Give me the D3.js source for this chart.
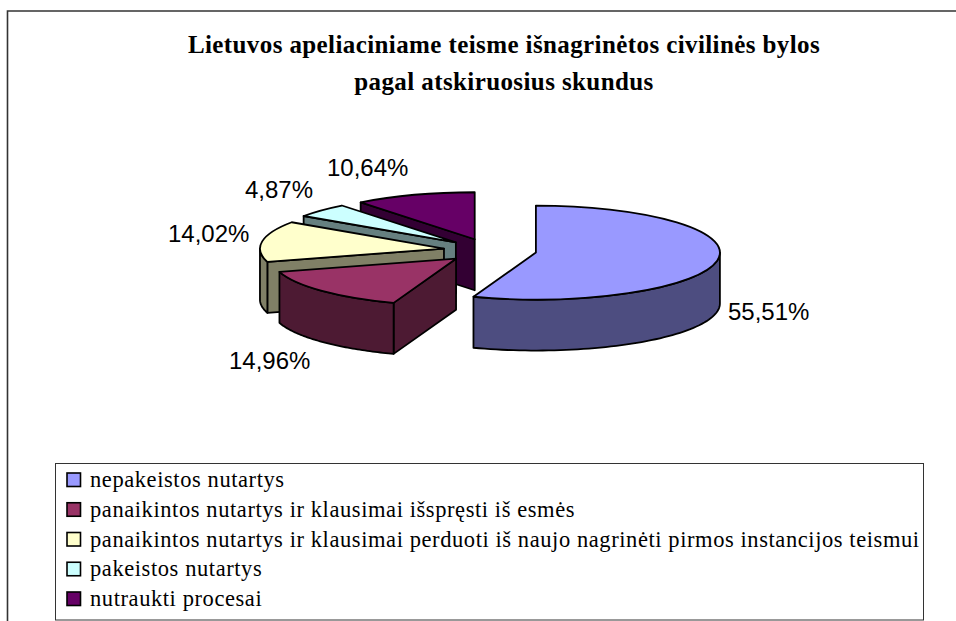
<!DOCTYPE html>
<html><head><meta charset="utf-8">
<script src="https://cdn.jsdelivr.net/npm/d3@7"></script>
<style>html,body{margin:0;background:#fff}svg{display:block}</style>
</head><body><svg id="c" width="956" height="621"></svg>
<script>
const categories = ["nepakeistos nutartys","panaikintos nutartys ir klausimai išspręsti iš esmės","panaikintos nutartys ir klausimai perduoti iš naujo nagrinėti pirmos instancijos teismui","pakeistos nutartys","nutraukti procesai"];
const values = [55.51,14.96,14.02,4.87,10.64];
const valueLabels = ["55,51%","14,96%","14,02%","4,87%","10,64%"];
const colors = ["#9999ff","#993366","#ffffcc","#ccffff","#660066"];
const titleLines = ["Lietuvos apeliaciniame teisme išnagrinėtos civilinės bylos","pagal atskiruosius skundus"];

const svg = d3.select("#c");
const W=956,H=621;
// frame
svg.append("path").attr("d",`M7.5 621V11H${W}`).attr("fill","none").attr("stroke","#333").attr("stroke-width",1.6);

// title
svg.selectAll("text.title").data(titleLines).join("text").attr("class","title")
 .attr("x",504).attr("y",(d,i)=>53+i*37).attr("text-anchor","middle")
 .attr("font-family","'Liberation Serif',serif").attr("font-weight","bold").attr("font-size",25)
 .attr("letter-spacing",0.4).text(d=>d);

// pie
const cx=490,cy=250.5,rx=184,ry=47,depth=51,explode=46.6,k=ry/rx;
const slices=d3.pie().sort(null).value(d=>d)(values);
const centre=s=>{const m=(s.startAngle+s.endAngle)/2;return [cx+explode*Math.sin(m),cy-explode*k*Math.cos(m)];};
const pt=(c,a,dy=0)=>[c[0]+rx*Math.sin(a),c[1]-ry*Math.cos(a)+dy];
const line=d3.line();
const arcTop=d3.arc().innerRadius(0).outerRadius(rx);
const shade=c=>{const q=d3.rgb(c);return d3.rgb(q.r/2,q.g/2,q.b/2).formatHex();};
const order=d3.range(values.length).reverse();
const g=svg.append("g").attr("stroke","#000").attr("stroke-width",1.8).attr("stroke-linejoin","round");
order.forEach(i=>{
  const s=slices[i],c=centre(s),dark=shade(colors[i]);
  // radial wall on the start side (faces the viewer on every slice except the first)
  if(i>0){
    const a=pt(c,s.startAngle);
    g.append("path").attr("d",line([c,a,[a[0],a[1]+depth],[c[0],c[1]+depth]])+"Z").attr("fill",dark);
  }
  // outer curved wall: the part of the rim between 90° and 270°
  const a0=Math.max(s.startAngle,Math.PI/2),a1=Math.min(s.endAngle,Math.PI*1.5);
  if(a1>a0){
    const ang=d3.range(0,61).map(j=>a0+(a1-a0)*j/60);
    const pts=ang.map(a=>pt(c,a)).concat(ang.slice().reverse().map(a=>pt(c,a,depth)));
    g.append("path").attr("d",line(pts)+"Z").attr("fill",dark);
  }
  // top face
  g.append("path").attr("transform",`translate(${c[0]},${c[1]}) scale(1,${k})`)
   .attr("d",arcTop(s)).attr("fill",colors[i]).attr("vector-effect","non-scaling-stroke");
});

// value labels
const labelAnchors=[[728,320],[229,369],[168,242],[245,198],[327,176]];
svg.selectAll("text.v").data(valueLabels).join("text").attr("class","v")
 .attr("x",(d,i)=>labelAnchors[i][0]).attr("y",(d,i)=>labelAnchors[i][1])
 .attr("font-family","'Liberation Sans',sans-serif").attr("font-size",24).attr("fill","#000").text(d=>d);

// legend
svg.append("rect").attr("x",55.5).attr("y",463.5).attr("width",868).attr("height",156.5)
 .attr("fill","#fff").attr("stroke","#333").attr("stroke-width",1);
const yL=d3.scalePoint().domain(d3.range(categories.length)).range([480,599]);
const lg=svg.selectAll("g.l").data(categories).join("g").attr("class","l").attr("transform",(d,i)=>`translate(0,${yL(i)})`);
lg.append("rect").attr("x",67).attr("y",-7).attr("width",13.5).attr("height",13.5)
 .attr("fill",(d,i)=>colors[i]).attr("stroke","#000").attr("stroke-width",1.6);
lg.append("text").attr("x",90).attr("y",7).attr("font-family","'Liberation Serif',serif")
 .attr("font-size",22.5).attr("letter-spacing",0.58).attr("fill","#000").text(d=>d);
</script></body></html>
